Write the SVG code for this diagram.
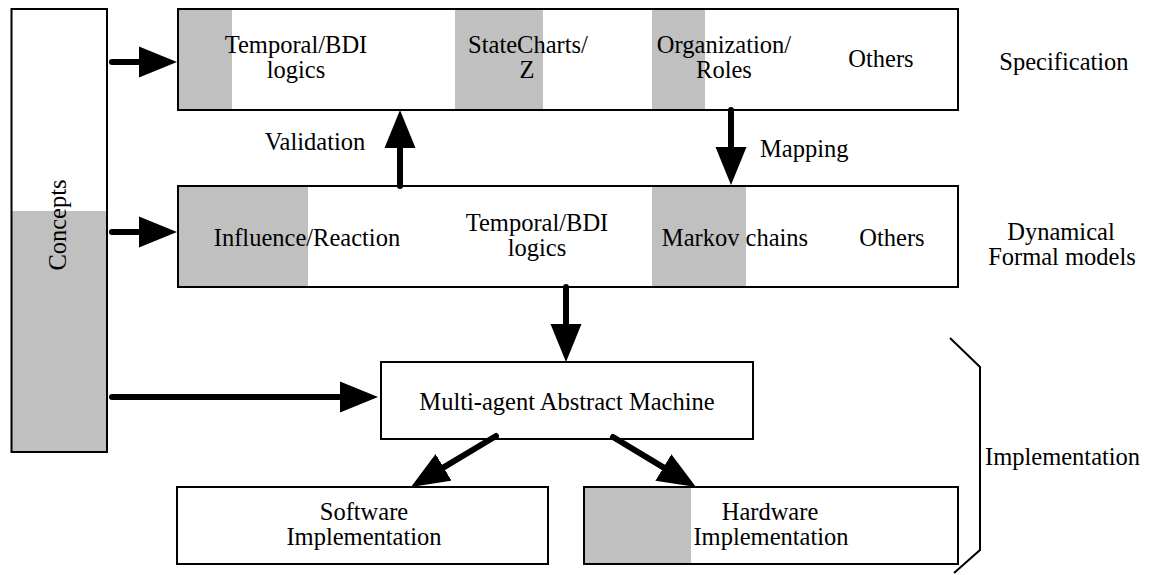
<svg xmlns="http://www.w3.org/2000/svg" width="1150" height="575" viewBox="0 0 1150 575" font-family="'Liberation Serif', 'DejaVu Serif', serif" font-size="25">
<style>
.box{fill:none;stroke:#000;stroke-width:2}
.bg{fill:#fff}
.g{fill:#c0c0c0}
text{font-family:'Liberation Serif','DejaVu Serif',serif;font-size:24.5px;fill:#000}
.m{text-anchor:middle}
.c{fill:none;stroke:#000;stroke-width:6;stroke-linecap:round}
.br{fill:none;stroke:#000;stroke-width:2}
</style>
<defs>
<marker id="ah" viewBox="0 -16 40 32" markerWidth="40" markerHeight="32" refX="0" refY="0" markerUnits="userSpaceOnUse" orient="auto">
<path d="M0,-15.5 L38,0 L0,15.5 Z" fill="#000"/>
</marker>
</defs>
<rect width="1150" height="575" fill="#fff"/>
<g id="concepts">
<rect class="bg" x="11.5" y="9" width="95.5" height="443"/>
<rect class="g" x="11.5" y="211" width="95.5" height="241"/>
<rect class="box" x="11.5" y="9" width="95.5" height="443"/>
<text class="m" transform="translate(66,225) rotate(-90)">Concepts</text>
</g>
<g id="specification">
<rect class="bg" x="178" y="9" width="780" height="101"/>
<rect class="g" x="178" y="9" width="54" height="101"/>
<rect class="g" x="455" y="9" width="88" height="101"/>
<rect class="g" x="652" y="9" width="53" height="101"/>
<rect class="box" x="178" y="9" width="780" height="101"/>
<text class="m" x="296" y="53">Temporal/BDI</text>
<text class="m" x="296" y="78">logics</text>
<text class="m" x="528" y="53">StateCharts/</text>
<text class="m" x="527" y="78">Z</text>
<text class="m" x="724" y="53">Organization/</text>
<text class="m" x="724" y="78">Roles</text>
<text class="m" x="881" y="67">Others</text>
</g>
<g id="dynamical">
<rect class="bg" x="178" y="186" width="780" height="101"/>
<rect class="g" x="178" y="186" width="130" height="101"/>
<rect class="g" x="652" y="186" width="94" height="101"/>
<rect class="box" x="178" y="186" width="780" height="101"/>
<text class="m" x="307" y="246">Influence/Reaction</text>
<text class="m" x="537" y="231">Temporal/BDI</text>
<text class="m" x="537" y="256">logics</text>
<text class="m" x="735" y="246">Markov chains</text>
<text class="m" x="892" y="246">Others</text>
</g>
<g id="mam">
<rect class="bg" x="381" y="362" width="372" height="77"/>
<rect class="box" x="381" y="362" width="372" height="77"/>
<text class="m" x="567" y="410">Multi-agent Abstract Machine</text>
</g>
<g id="software">
<rect class="bg" x="177" y="487" width="371" height="77"/>
<rect class="box" x="177" y="487" width="371" height="77"/>
<text class="m" x="364" y="520">Software</text>
<text class="m" x="364" y="545">Implementation</text>
</g>
<g id="hardware">
<rect class="bg" x="584" y="487" width="374" height="77"/>
<rect class="g" x="584" y="487" width="107" height="77"/>
<rect class="box" x="584" y="487" width="374" height="77"/>
<text class="m" x="770" y="520">Hardware</text>
<text class="m" x="771" y="545">Implementation</text>
</g>
<g id="labels">
<text class="m" x="1064" y="70">Specification</text>
<text class="m" x="1061" y="240">Dynamical</text>
<text class="m" x="1062" y="265">Formal models</text>
<text x="985" y="465">Implementation</text>
<polyline class="br" points="950,338 980,367 980,550 954,573"/>
</g>
<g id="connectors">
<line class="c" x1="112" y1="62" x2="139" y2="62" marker-end="url(#ah)"/>
<line class="c" x1="112" y1="232" x2="139" y2="232" marker-end="url(#ah)"/>
<line class="c" x1="112" y1="397" x2="340" y2="397" marker-end="url(#ah)"/>
<line class="c" x1="400" y1="186" x2="400" y2="148" marker-end="url(#ah)"/>
<text class="m" x="315" y="150">Validation</text>
<line class="c" x1="731" y1="110" x2="731" y2="147" marker-end="url(#ah)"/>
<text x="760" y="157">Mapping</text>
<line class="c" x1="566" y1="287" x2="566" y2="324" marker-end="url(#ah)"/>
<line class="c" x1="496" y1="436" x2="443.6" y2="467.4" marker-end="url(#ah)"/>
<line class="c" x1="613" y1="437" x2="663.4" y2="467.4" marker-end="url(#ah)"/>
</g>
</svg>
